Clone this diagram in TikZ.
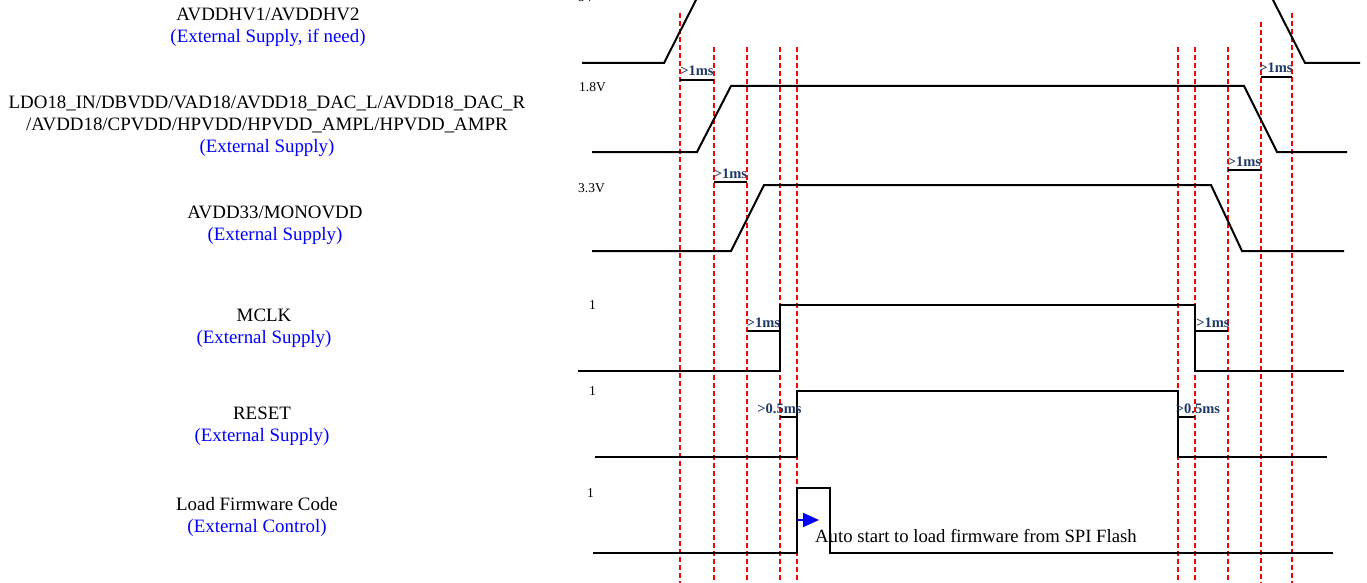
\documentclass[tikz,border=0pt]{standalone}
\usepackage{fontspec}
\setmainfont{Liberation Serif}
\usetikzlibrary{arrows.meta}
\definecolor{navy}{RGB}{31,56,100}
\begin{document}
\begin{tikzpicture}[x=1pt,y=-1pt,
  sig/.style={line width=2pt,line join=miter},
  guide/.style={red,line width=1.1pt,dash pattern=on 5pt off 3pt},
  gapbar/.style={line width=2pt},
  gaplbl/.style={font=\fontsize{14.5}{14}\selectfont\bfseries,text=navy,inner sep=0pt,anchor=base},
  lvl/.style={font=\fontsize{13.5}{14}\selectfont,inner sep=0pt,anchor=west},
  signame/.style={font=\fontsize{18.9}{22}\selectfont,align=center,inner sep=0pt}]
\useasboundingbox (0,0) rectangle (1367,583);
\clip (0,0) rectangle (1367,583);
% signal names
\node[signame] (hv) at (268,27) {AVDDHV1/AVDDHV2\\{\color{blue}(External Supply, if need)}};
\node[signame] (ldo) at (267,126) {LDO18\_IN/DBVDD/VAD18/AVDD18\_DAC\_L/AVDD18\_DAC\_R\\/AVDD18/CPVDD/HPVDD/HPVDD\_AMPL/HPVDD\_AMPR\\{\color{blue}(External Supply)}};
\node[signame] (av33) at (275,225) {AVDD33/MONOVDD\\{\color{blue}(External Supply)}};
\node[signame] (mclk) at (264,328) {MCLK\\{\color{blue}(External Supply)}};
\node[signame] (rst) at (262,426.5) {RESET\\{\color{blue}(External Supply)}};
\node[signame] (fw) at (257,516.5) {Load Firmware Code\\{\color{blue}(External Control)}};
% levels
\node[lvl] (l5) at (578,-3) {5V};
\node[lvl] (l18) at (579,87) {1.8V};
\node[lvl] (l33) at (578,188) {3.3V};
\node[lvl] (lmclk) at (589,305) {1};
\node[lvl] (lrst) at (589,391) {1};
\node[lvl] (lfw) at (587,493) {1};
% guide lines
\foreach \x/\top in {680/13,714/47,747/47,780/47,797/47,1178/47,1195/47,1228/47,1261/22,1292/13}
  \draw[guide] (\x,\top) -- (\x,583);
% waveforms
\draw[sig] (582,63) -- (664,63) -- (698.5,-5) -- (1270.5,-5) -- (1305,63) -- (1360,63);
\draw[sig] (592,152) -- (697,152) -- (731,86) -- (1244,86) -- (1277,152) -- (1347,152);
\draw[sig] (592,251) -- (731,251) -- (764,185) -- (1211,185) -- (1242,251) -- (1344,251);
\draw[sig] (578,371) -- (780,371) -- (780,305) -- (1195,305) -- (1195,371) -- (1344,371);
\draw[sig] (595,457) -- (797,457) -- (797,391) -- (1178,391) -- (1178,457) -- (1327,457);
\draw[sig] (593,553) -- (797,553) -- (797,488) -- (830,488) -- (830,553) -- (1333,553);
% delays
\foreach \a/\b/\y/\lx/\t [count=\i] in {680/714/80/697/{>1ms},714/747/182/730.5/{>1ms},747/780/331/763.5/{>1ms},780/797/417/779.5/{>0.5ms},1178/1195/417/1198/{>0.5ms},1195/1228/331/1213/{>1ms},1228/1261/170/1244.5/{>1ms},1261/1292/77/1276/{>1ms}}
  \draw[gapbar] (\a,\y) -- (\b,\y) node[gaplbl] (gl\i) at (\lx,\y-4) {\t};
% firmware load
\coordinate (fwa) at (797,520);
\coordinate (fwb) at (819,520);
\draw[blue,line width=2pt,-{Triangle[length=16pt,width=14pt]}] (fwa) -- (fwb);
\node[font=\fontsize{18.7}{22}\selectfont,anchor=base west,inner sep=0pt] (fwtxt) at (815,542) {Auto start to load firmware from SPI Flash};
\end{tikzpicture}
\end{document}
